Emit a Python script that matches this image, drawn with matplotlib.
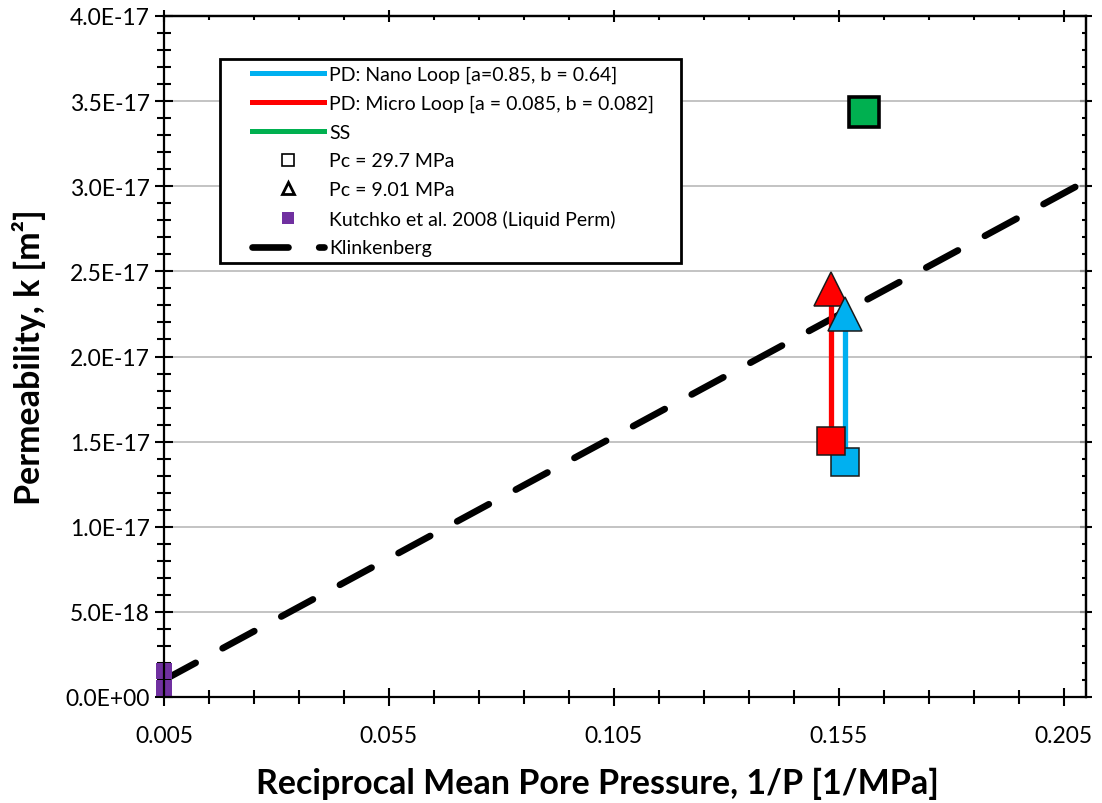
import matplotlib
matplotlib.use("Agg")
import matplotlib.pyplot as plt
from matplotlib.lines import Line2D
from matplotlib.legend_handler import HandlerLine2D
from matplotlib.ticker import MultipleLocator, FixedLocator, FuncFormatter

plt.rcParams['font.family'] = ['Lato', 'DejaVu Sans']

# ---- data ----
# Pulse-decay (PD) results: reciprocal mean pore pressure [1/MPa] and permeability [m^2]
nano_x = [0.1565, 0.1565]
nano_k = [1.378e-17, 2.250e-17]          # Pc = 29.7 MPa, Pc = 9.01 MPa
micro_x = [0.1533, 0.1533]
micro_k = [1.504e-17, 2.397e-17]         # Pc = 29.7 MPa, Pc = 9.01 MPa
ss_x = [0.1607]
ss_k = [3.437e-17]                        # steady state, Pc = 29.7 MPa
kutchko_x = [0.005, 0.005]
kutchko_k = [1.5e-18, 0.5e-18]            # liquid permeability range
klink_x = [0.005, 0.210]
klink_k = [1.0e-18, 3.03e-17]             # Klinkenberg fit

x_major = [0.005, 0.055, 0.105, 0.155, 0.205]
x_minor = [0.005 + 0.01 * i for i in range(21)]
legend_labels = [
    "PD: Nano Loop [a=0.85, b = 0.64]",
    "PD: Micro Loop [a = 0.085, b = 0.082]",
    "SS",
    "Pc = 29.7 MPa",
    "Pc = 9.01 MPa",
    "Kutchko et al. 2008 (Liquid Perm)",
    "Klinkenberg",
]

BLUE = "#00B0F0"
RED = "#FF0000"
GREEN = "#00B050"
PURPLE = "#7030A0"
EDGE = "#1a1a1a"

fig = plt.figure(figsize=(11.02, 8.04), dpi=100)
ax = fig.add_axes([164 / 1102, 1 - 698 / 804, 922 / 1102, 681 / 804])

ax.set_xlim(0.005, 0.210)
ax.set_ylim(0, 4.0e-17)

# horizontal gridlines
ax.yaxis.set_major_locator(MultipleLocator(5e-18))
ax.yaxis.set_minor_locator(MultipleLocator(1e-18))
ax.xaxis.set_major_locator(FixedLocator(x_major))
ax.xaxis.set_minor_locator(FixedLocator(x_minor))
ax.grid(axis='y', which='major', color='#b3b3b3', linewidth=1.1, zorder=0)
ax.set_axisbelow(True)

def sci(v, pos):
    s = f"{v:.1E}"
    mant, exp = s.split("E")
    return f"{mant}E{exp[0]}{int(exp[1:]):02d}"

ax.yaxis.set_major_formatter(FuncFormatter(sci))
ax.xaxis.set_major_formatter(FuncFormatter(lambda v, p: f"{v:.3f}"))

# Klinkenberg line
dash_kw = dict(color='black', linewidth=4.8, dashes=(5.4, 4.6), dash_capstyle='round')
ax.plot(klink_x, klink_k, zorder=2, **dash_kw)

# Kutchko liquid permeability
ax.plot(kutchko_x, kutchko_k, linestyle='none', marker='s', markersize=12,
        markerfacecolor=PURPLE, markeredgewidth=0, zorder=3, clip_on=False)

# PD loops
ax.plot(micro_x, micro_k, color=RED, linewidth=3.8, zorder=3)
ax.plot(nano_x, nano_k, color=BLUE, linewidth=3.8, zorder=3)
ax.plot(micro_x[1:], micro_k[1:], linestyle='none', marker='^', markersize=25,
        markerfacecolor=RED, markeredgecolor=EDGE, markeredgewidth=1.1, zorder=4)
ax.plot(nano_x[1:], nano_k[1:], linestyle='none', marker='^', markersize=25,
        markerfacecolor=BLUE, markeredgecolor=EDGE, markeredgewidth=1.1, zorder=5)
ax.plot(nano_x[:1], nano_k[:1], linestyle='none', marker='s', markersize=20.5,
        markerfacecolor=BLUE, markeredgecolor=EDGE, markeredgewidth=1.1, zorder=4)
ax.plot(micro_x[:1], micro_k[:1], linestyle='none', marker='s', markersize=20.5,
        markerfacecolor=RED, markeredgecolor=EDGE, markeredgewidth=1.1, zorder=5)

# Steady state
ax.plot(ss_x, ss_k, linestyle='none', marker='s', markersize=22,
        markerfacecolor=GREEN, markeredgecolor='black', markeredgewidth=2.6, zorder=5)

# spines and ticks
for sp in ax.spines.values():
    sp.set_linewidth(1.6)
    sp.set_color('black')
    sp.set_zorder(6)

ax.tick_params(which='major', direction='inout', length=12.5, width=1.5,
               labelsize=16.5, colors='black')
ax.tick_params(which='minor', direction='inout', length=9.5, width=1.5)
ax.tick_params(axis='y', which='major', pad=4)
ax.tick_params(axis='x', which='major', pad=14)

top = ax.secondary_xaxis('top')
top.xaxis.set_major_locator(FixedLocator(x_major))
top.xaxis.set_minor_locator(FixedLocator(x_minor))
top.tick_params(which='major', direction='inout', length=8, width=1.5, labeltop=False)
top.tick_params(which='minor', direction='in', length=3, width=1.5)
top.spines['top'].set_linewidth(1.6)

right = ax.secondary_yaxis('right')
right.yaxis.set_major_locator(MultipleLocator(5e-18))
right.yaxis.set_minor_locator(MultipleLocator(1e-18))
right.tick_params(which='major', direction='inout', length=8, width=1.5, labelright=False)
right.tick_params(which='minor', direction='in', length=3, width=1.5)
right.spines['right'].set_linewidth(1.6)

ax.set_xlabel("Reciprocal Mean Pore Pressure, 1/P [1/MPa]", fontsize=24.5,
              fontweight='bold')
ax.xaxis.set_label_coords(0.4696, -0.126, transform=ax.transAxes)
ax.xaxis.label.set_va('center')
ax.set_ylabel("Permeability, k [m²]", fontsize=24.5, fontweight='bold')
ax.yaxis.set_label_coords(-0.146, 0.5, transform=ax.transAxes)
ax.yaxis.label.set_va('center')

# legend
handles = [
    Line2D([], [], color=BLUE, linewidth=3.6),
    Line2D([], [], color=RED, linewidth=3.6),
    Line2D([], [], color=GREEN, linewidth=3.6),
    Line2D([], [], linestyle='none', marker='s', markersize=8,
           markerfacecolor='white', markeredgecolor='black', markeredgewidth=1.2),
    Line2D([], [], linestyle='none', marker='^', markersize=8,
           markerfacecolor='white', markeredgecolor='black', markeredgewidth=2.0),
    Line2D([], [], linestyle='none', marker='s', markersize=8,
           markerfacecolor=PURPLE, markeredgewidth=0),
    Line2D([], [], **dash_kw),
]
leg = ax.legend(handles, legend_labels, loc='upper left',
                bbox_to_anchor=(0.0607, 0.631, 0.5, 0.306), mode='expand',
                borderaxespad=0, fontsize=14, frameon=True, fancybox=False,
                framealpha=1, edgecolor='black', handlelength=5.0,
                handletextpad=0.25, labelspacing=0.6, borderpad=0.35,
                handler_map={Line2D: HandlerLine2D(xpad=1.3)})
leg.get_frame().set_linewidth(2.0)
leg.set_zorder(7)

fig.savefig("out.png", dpi=100, facecolor='white')
